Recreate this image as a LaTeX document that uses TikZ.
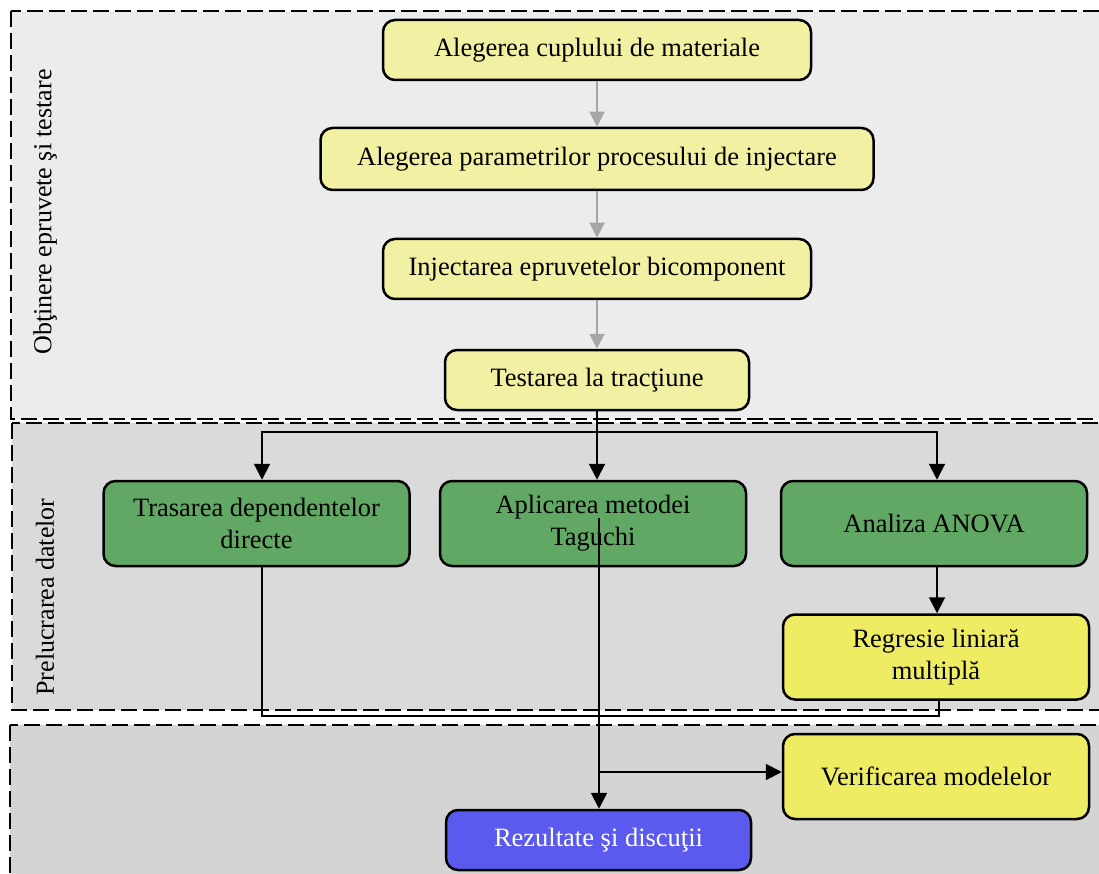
\documentclass[tikz,border=0pt]{standalone}
\usepackage{fontspec}
\setmainfont{Liberation Serif}
\usetikzlibrary{arrows.meta,calc}
\definecolor{panelA}{HTML}{ECECEC}
\definecolor{panelB}{HTML}{DADADA}
\definecolor{panelC}{HTML}{D4D4D4}
\definecolor{ylight}{HTML}{F2F1A3}
\definecolor{ystrong}{HTML}{EEEC62}
\definecolor{gbox}{HTML}{62A865}
\definecolor{bbox}{HTML}{5A5AEE}
\definecolor{garrow}{HTML}{A6A6A6}
\begin{document}
\begin{tikzpicture}[x=1pt,y=-1pt,
  panel/.style={draw=black, line width=2pt, dash pattern=on 16pt off 6pt},
  boxbase/.style={draw=black, line width=2.5pt, rounded corners=12pt, align=center,
    font=\fontsize{26.5}{32}\selectfont, inner sep=0pt, minimum height=60pt},
  ybox/.style={boxbase, fill=ylight},
  gbx/.style={boxbase, fill=gbox, minimum width=306pt, minimum height=85pt},
  ysbx/.style={boxbase, fill=ystrong, minimum width=306pt, minimum height=85pt},
  bbx/.style={boxbase, fill=bbox, text=white, minimum width=305pt},
  sidelabel/.style={rotate=90, font=\fontsize{26}{31}\selectfont},
  grayarr/.style={draw=garrow, line width=2pt, -{Triangle[length=15pt,width=15pt]}},
  conn/.style={draw=black, line width=2pt},
  arr/.style={conn, -{Triangle[length=16pt,width=16pt]}}]
\useasboundingbox (0,0) rectangle (1099,874);
\clip (0,0) rectangle (1099,874);
\fill[white] (0,0) rectangle (1099,874);
% panels
\draw[panel, fill=panelA] (11,11) rectangle (1115,419);
\draw[panel, fill=panelB] (12,423) rectangle (1115,710);
\draw[panel, fill=panelC] (10,725) rectangle (1115,900);
\node[sidelabel] (lab1) at (45,212) {Obţinere epruvete şi testare};
\node[sidelabel] (lab2) at (45,597) {Prelucrarea datelor};
% top chain
\node[ybox, minimum width=428pt] (n1) at (597,50) {Alegerea cuplului de materiale};
\node[ybox, minimum width=553pt, minimum height=62pt] (n2) at (597,159) {Alegerea parametrilor procesului de injectare};
\node[ybox, minimum width=428pt] (n3) at (597,269) {Injectarea epruvetelor bicomponent};
\node[ybox, minimum width=304pt] (n4) at (597,380) {Testarea la tracţiune};
\draw[grayarr] (n1) -- (n2);
\draw[grayarr] (n2) -- (n3);
\draw[grayarr] (n3) -- (n4);
% processing
\node[gbx] (t1) at (256.5,523.5) {Trasarea dependentelor\\directe};
\node[gbx] (t2) at (593,523.5) {Aplicarea metodei\\Taguchi};
\node[gbx] (t3) at (934,523.5) {Analiza ANOVA};
\node[ysbx] (r1) at (936,657) {Regresie liniară\\multiplă};
\node[ysbx] (ver) at (936,776.5) {Verificarea modelelor};
\node[bbx] (rez) at (598.5,840) {Rezultate şi discuţii};
% branching connectors
\coordinate (split) at (597,432);
\draw[conn] (n4.south) -- (split);
\draw[arr] (split) -| ([xshift=5.5pt]t1.north);
\draw[arr] (split) -| ([xshift=3pt]t3.north);
\draw[arr] (split) -- (split |- t2.north);
\draw[arr] ([xshift=3pt]t3.south) -- ([xshift=3pt]t3.south |- r1.north);
% joining connectors
\coordinate (join) at (599,716);
\draw[conn] ([xshift=5.5pt]t1.south) |- (join);
\draw[conn] ([xshift=3pt]r1.south) |- (join);
\coordinate (tstart) at (599,518);
\draw[arr] (tstart) -- (tstart |- rez.north);
\coordinate (vsplit) at (599,772);
\draw[arr] (vsplit) -- (vsplit -| ver.west);
\end{tikzpicture}
\end{document}
